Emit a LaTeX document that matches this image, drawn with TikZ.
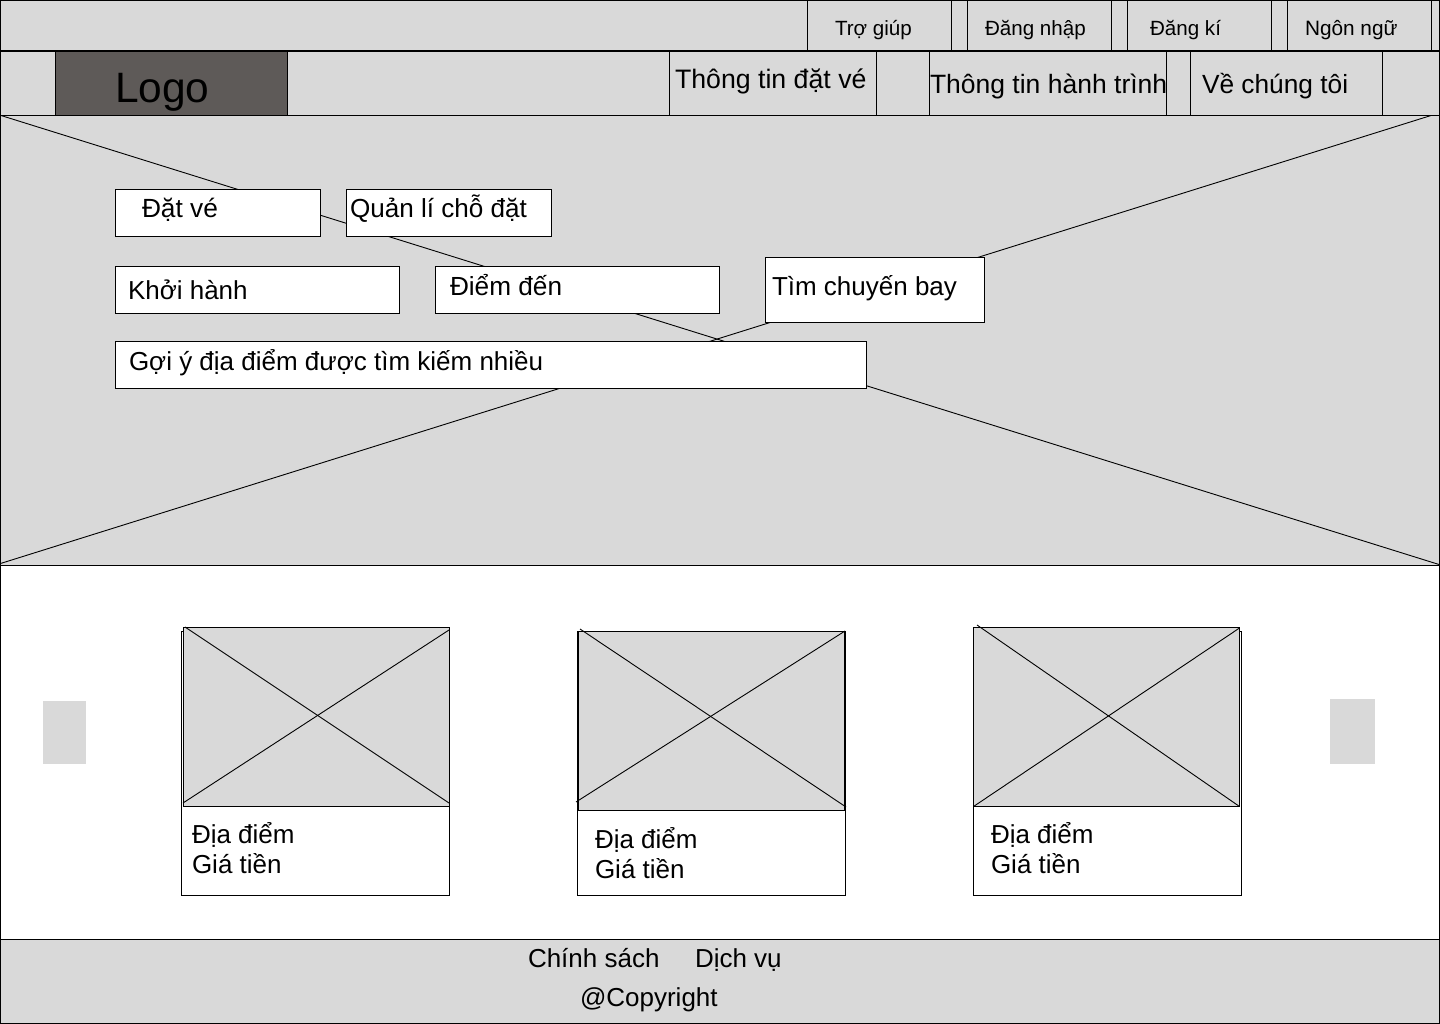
\documentclass[tikz,border=0pt]{standalone}
\usepackage{fontspec}
\setmainfont{Liberation Sans}
\newcommand{\bx}[6]{\node[#6,minimum width={(#4-#2)*1pt},minimum height={(#5-#3)*1pt}] (#1) at ({(#2+#4)/2},{(#3+#5)/2}) {};}
\newcommand{\tx}[5]{\node[lbl] (#1) at (#2,#3) {\fontsize{#4}{#4}\selectfont #5};}
\tikzset{
  box/.style={rectangle,draw=black,line width=1pt,inner sep=0pt,outer sep=0pt},
  gbox/.style={box,fill=panel},
  wbox/.style={box,fill=white},
  pad/.style={rectangle,fill=panel,inner sep=0pt,outer sep=0pt},
  lbl/.style={anchor=base west,inner sep=0pt,outer sep=0pt,text=black},
  cross/.style={draw=black,line width=0.9pt}
}
\definecolor{panel}{HTML}{D9D9D9}
\definecolor{logoc}{HTML}{5E5A58}
\begin{document}
\begin{tikzpicture}[x=1pt,y=-1pt]
\useasboundingbox (0,0) rectangle (1440,1024);
\fill[white] (0,0) rectangle (1440,1024);
% page bands
\bx{page}{0.5}{565}{1439.5}{940}{wbox}
\bx{hero}{0.5}{115.5}{1439.5}{565}{gbox}
\coordinate (heroa) at (1,115.5);
\coordinate (herob) at (1439,564.5);
\coordinate (heroc) at (0.5,563.5);
\coordinate (herod) at (1431,115.5);
\draw[cross] (heroa) -- (herob);
\draw[cross] (heroc) -- (herod);
\bx{topbar}{0.5}{0.5}{1439.5}{51}{gbox}
\bx{navbar}{0.5}{51}{1439.5}{115.5}{gbox}
\bx{foot}{0.5}{939.5}{1439.5}{1023.5}{gbox}
% top bar
\bx{help}{807.5}{0.5}{951.5}{51}{gbox}
\bx{login}{967.5}{0.5}{1111.5}{51}{gbox}
\bx{reg}{1127.5}{0.5}{1271.5}{51}{gbox}
\bx{lang}{1287.5}{0.5}{1431.5}{51}{gbox}
\draw[line width=2pt] (navbar.north west) -- (navbar.north east);
\tx{thelp}{835}{35.5}{20.6}{Trợ giúp}
\tx{tlogin}{985}{35.5}{20.6}{Đăng nhập}
\tx{treg}{1150}{35.5}{20.6}{Đăng kí}
\tx{tlang}{1305}{35.5}{20.8}{Ngôn ngữ}
% nav bar
\bx{logo}{55.5}{52}{287.5}{115.5}{box,fill=logoc}
\tx{tlogo}{115}{103}{42.5}{Logo}
\bx{nav1}{669.5}{52}{876.5}{115.5}{gbox}
\bx{nav2}{929.5}{52}{1166.5}{115.5}{gbox}
\bx{nav3}{1190.5}{52}{1382.5}{115.5}{gbox}
\tx{tnav1}{675}{89}{26.7}{Thông tin đặt vé}
\tx{tnav2}{930}{94}{26.5}{Thông tin hành trình}
\tx{tnav3}{1202}{94}{26.3}{Về chúng tôi}
% search boxes
\bx{b1}{115.5}{189.5}{320.5}{236.5}{wbox}
\bx{b2}{346.5}{189.5}{551.5}{236.5}{wbox}
\bx{b3}{115.5}{266.5}{399.5}{313.5}{wbox}
\bx{b4}{435.5}{266.5}{719.5}{313.5}{wbox}
\bx{b5}{765.5}{257.5}{984.5}{322.5}{wbox}
\bx{b6}{115.5}{341.5}{866.5}{388.5}{wbox}
\tx{t1}{142}{218}{26.3}{Đặt vé}
\tx{t2}{350}{218}{26.1}{Quản lí chỗ đặt}
\tx{t3}{128}{299}{26}{Khởi hành}
\tx{t4}{450}{295}{26.2}{Điểm đến}
\tx{t5}{772}{295}{26}{Tìm chuyến bay}
\tx{t6}{129}{370}{26}{Gợi ý địa điểm được tìm kiếm nhiều}
% carousel buttons
\bx{prev}{43}{701}{86}{764}{pad}
\bx{next}{1330}{699}{1375}{764}{pad}
% card 1
\bx{c1}{181.5}{631}{449.5}{895.5}{wbox}
\bx{i1}{183}{627.5}{449.5}{806.5}{gbox}
\coordinate (c1a) at (185,627);
\coordinate (c1b) at (449,803);
\coordinate (c1c) at (183,803);
\coordinate (c1d) at (449,630);
\draw[cross] (c1a) -- (c1b);
\draw[cross] (c1c) -- (c1d);
\tx{c1p}{192}{843}{26}{Địa điểm}
\tx{c1g}{192}{873}{26}{Giá tiền}
% card 2
\bx{c2}{577.5}{631}{845.5}{895.5}{wbox}
\bx{i2}{578}{631}{845}{810.5}{gbox}
\draw[line width=2pt] (i2.north west) -- (i2.south west);
\draw[line width=2pt] (i2.north east) -- (i2.south east);
\coordinate (c2a) at (580,629);
\coordinate (c2b) at (846,807);
\coordinate (c2c) at (576,802);
\coordinate (c2d) at (845,631);
\draw[cross] (c2a) -- (c2b);
\draw[cross] (c2c) -- (c2d);
\tx{c2p}{595}{848}{26}{Địa điểm}
\tx{c2g}{595}{878}{26}{Giá tiền}
% card 3
\bx{c3}{973.5}{631}{1241.5}{895.5}{wbox}
\bx{i3}{973.5}{627.5}{1239.5}{806.5}{gbox}
\coordinate (c3a) at (977,625);
\coordinate (c3d) at (1239.5,628);
\draw[cross] (c3a) -- (i3.south east);
\draw[cross] (i3.south west) -- (c3d);
\tx{c3p}{991}{843}{26}{Địa điểm}
\tx{c3g}{991}{873}{26}{Giá tiền}
% footer
\tx{f1}{528}{967}{26}{Chính sách}
\tx{f2}{695}{967}{26}{Dịch vụ}
\tx{f3}{580}{1006}{26}{@Copyright}
\end{tikzpicture}
\end{document}
